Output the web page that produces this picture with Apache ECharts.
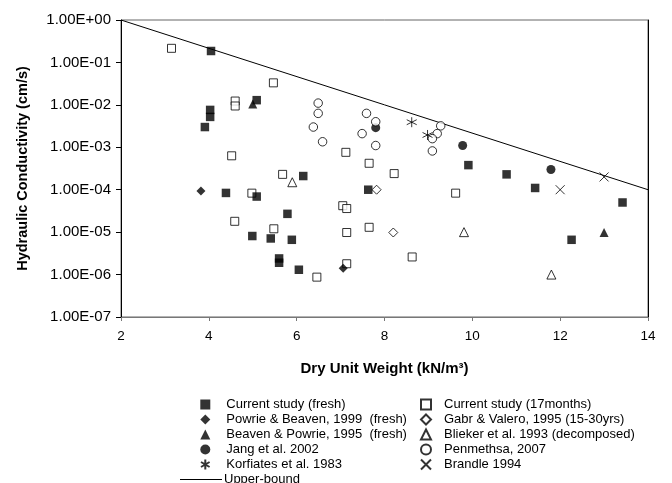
<!DOCTYPE html>
<html>
<head>
<meta charset="utf-8">
<script src="https://cdn.jsdelivr.net/npm/echarts@6/dist/echarts.min.js"></script>
<style>html,body{margin:0;padding:0;background:#fff}#c{width:672px;height:483px}</style>
</head>
<body>
<div id="c"></div>
<script>
var xTicks = [2, 4, 6, 8, 10, 12, 14];
var curFresh = [[4.05,1.86e-1],[4.03,7.6e-3],[4.03,5.2e-3],[3.91,3.0e-3],[5.09,1.29e-2],[4.39,8.4e-5],[5.09,6.9e-5],[5.79,2.7e-5],[4.99,8.1e-6],[5.41,7.1e-6],[5.89,6.6e-6],[5.6,2.4e-6],[5.6,1.9e-6],[6.05,1.3e-6],[6.15,2.1e-4],[7.63,1.0e-4],[9.91,3.8e-4],[10.78,2.3e-4],[11.43,1.1e-4],[13.42,5e-5],[12.26,6.6e-6]];
var cur17 = [[3.15,0.215],[5.47,0.033],[4.6,0.0123],[4.6,0.0094],[4.52,6.3e-4],[5.68,2.3e-4],[4.98,8.3e-5],[4.59,1.8e-5],[5.48,1.2e-5],[7.12,7.6e-4],[7.65,4.2e-4],[8.22,2.4e-4],[9.62,8.3e-5],[7.05,4.2e-5],[7.14,3.6e-5],[7.14,9.8e-6],[7.65,1.3e-5],[8.63,2.6e-6],[7.14,1.8e-6],[6.46,8.7e-7]];
var powrie = [[3.82,9.3e-5],[7.06,1.4e-6]];
var gabr = [[7.82,1.0e-4],[8.2,9.8e-6]];
var beaven = [[5.0,1.05e-2],[13.0,9.8e-6]];
var blieker = [[5.9,1.5e-4],[9.81,1.0e-5],[11.8,1.0e-6]];
var jang = [[7.8,2.9e-3],[9.78,1.1e-3],[11.79,3.0e-4]];
var penmethsa = [[6.49,0.011],[6.49,6.3e-3],[6.38,3.0e-3],[6.59,1.35e-3],[7.59,6.3e-3],[7.8,4.0e-3],[7.49,2.1e-3],[7.8,1.1e-3],[9.28,3.2e-3],[9.2,2.1e-3],[9.09,1.6e-3],[9.09,8.2e-4]];
var korfiates = [[8.62,3.9e-3],[8.98,1.95e-3]];
var brandle = [[12.0,1.0e-4],[13.0,2.0e-4]];
var upperBound = [[2,1],[14,1e-4]];

var names = {
  curFresh: 'Current study (fresh)',
  cur17: 'Current study (17months)',
  powrie: 'Powrie & Beaven, 1999  (fresh)',
  gabr: 'Gabr & Valero, 1995 (15-30yrs)',
  beaven: 'Beaven & Powrie, 1995  (fresh)',
  blieker: 'Blieker et al. 1993 (decomposed)',
  jang: 'Jang et al. 2002',
  penmethsa: 'Penmethsa, 2007',
  korfiates: 'Korfiates et al. 1983',
  brandle: 'Brandle 1994',
  upper: 'Upper-bound'
};

var FONT = "'Liberation Sans', Arial, sans-serif";
var filled = {color: '#000', borderColor: '#000', borderWidth: 0};
var open = {color: '#fff', borderColor: '#000', borderWidth: 1};
var strokeOnly = {color: 'rgba(0,0,0,0)', borderColor: '#000', borderWidth: 1};
var ASTER = 'path://M5,0L5,10M0.7,2.5L9.3,7.5M0.7,7.5L9.3,2.5';
var CROSS = 'path://M0,0L10,10M10,0L0,10';

function sc(name, data, symbol, size, style) {
  return {name: name, type: 'scatter', data: data, symbol: symbol, symbolSize: size,
    itemStyle: style, emphasis: {disabled: true}, z: 3};
}

function fmt(v) {
  var e = Math.round(Math.log10(v));
  return '1.00E' + (e < 0 ? '-' : '+') + String(Math.abs(e)).padStart(2, '0');
}

var legText = {fontFamily: FONT, fontSize: 13, color: '#000', lineHeight: 13, padding: [0, 0, 0, 11]};
var legText2 = {fontFamily: FONT, fontSize: 13, color: '#000', lineHeight: 13, padding: [0, 0, 0, 8]};

var option = {
  animation: false,
  backgroundColor: '#fff',
  grid: {left: 121, right: 24, top: 20, bottom: 166, show: true, borderColor: '#666', borderWidth: 1, outerBoundsMode: 'none'},
  xAxis: {
    type: 'value', min: 2, max: 14, interval: 2,
    name: 'Dry Unit Weight (kN/m³)', nameLocation: 'middle', nameGap: 44,
    nameTextStyle: {fontFamily: FONT, fontSize: 15, fontWeight: 'bold', color: '#000'},
    axisLine: {show: true, lineStyle: {color: '#777', width: 1}},
    axisTick: {show: true, inside: false, length: 4, lineStyle: {color: '#777'}},
    axisLabel: {fontFamily: FONT, fontSize: 13.5, color: '#000', margin: 12,
      formatter: function (v) { return xTicks.indexOf(v) >= 0 ? String(v) : ''; }},
    splitLine: {show: false}
  },
  yAxis: [{
    type: 'log', logBase: 10, min: 1e-7, max: 1,
    name: 'Hydraulic Conductivity (cm/s)', nameLocation: 'middle', nameGap: 91,
    nameTextStyle: {fontFamily: FONT, fontSize: 14.5, fontWeight: 'bold', color: '#000'},
    axisLine: {show: true, lineStyle: {color: '#000', width: 1}},
    axisTick: {show: true, inside: false, length: 5, lineStyle: {color: '#000'}},
    axisLabel: {fontFamily: FONT, fontSize: 15, color: '#000', margin: 10, formatter: fmt},
    minorTick: {show: false},
    splitLine: {show: false}
  }, {
    type: 'log', logBase: 10, min: 1e-7, max: 1, position: 'right',
    axisLine: {show: true, onZero: false, lineStyle: {color: '#000', width: 1}},
    axisTick: {show: false}, axisLabel: {show: false}, splitLine: {show: false}
  }],
  legend: [{
    orient: 'vertical', left: 195, top: 393, itemWidth: 10, itemHeight: 10, itemGap: 2,
    selectedMode: false, textStyle: legText,
    data: [names.curFresh, names.powrie, names.beaven, names.jang, names.korfiates]
  }, {
    orient: 'vertical', left: 415, top: 393, itemWidth: 10, itemHeight: 10, itemGap: 2,
    selectedMode: false, textStyle: legText2,
    data: [names.cur17, names.gabr, names.blieker, names.penmethsa, names.brandle]
  }, {
    orient: 'vertical', left: 175, top: 468, itemWidth: 42, itemHeight: 1, itemGap: 2,
    selectedMode: false, textStyle: {fontFamily: FONT, fontSize: 13, color: '#000', lineHeight: 13, padding: [0, 0, 0, -3]},
    data: [{name: names.upper, icon: 'rect'}]
  }],
  series: [
    {name: names.upper, type: 'line', data: upperBound, symbol: 'none', showSymbol: false,
      lineStyle: {color: '#000', width: 1}, itemStyle: {color: '#000'}, emphasis: {disabled: true}, z: 2},
    sc(names.cur17, cur17, 'rect', 8, open),
    sc(names.gabr, gabr, 'diamond', 9, open),
    sc(names.blieker, blieker, 'triangle', 9, open),
    sc(names.jang, jang, 'circle', 9, filled),
    sc(names.penmethsa, penmethsa, 'circle', 8.5, open),
    sc(names.curFresh, curFresh, 'rect', 8.5, filled),
    sc(names.powrie, powrie, 'diamond', 9, filled),
    sc(names.beaven, beaven, 'triangle', 9, filled),
    sc(names.korfiates, korfiates, ASTER, 10, strokeOnly),
    sc(names.brandle, brandle, CROSS, 9, strokeOnly)
  ]
};
var chart = echarts.init(document.getElementById('c'), null, {renderer: 'canvas'});
chart.setOption(option);
</script>
</body>
</html>
